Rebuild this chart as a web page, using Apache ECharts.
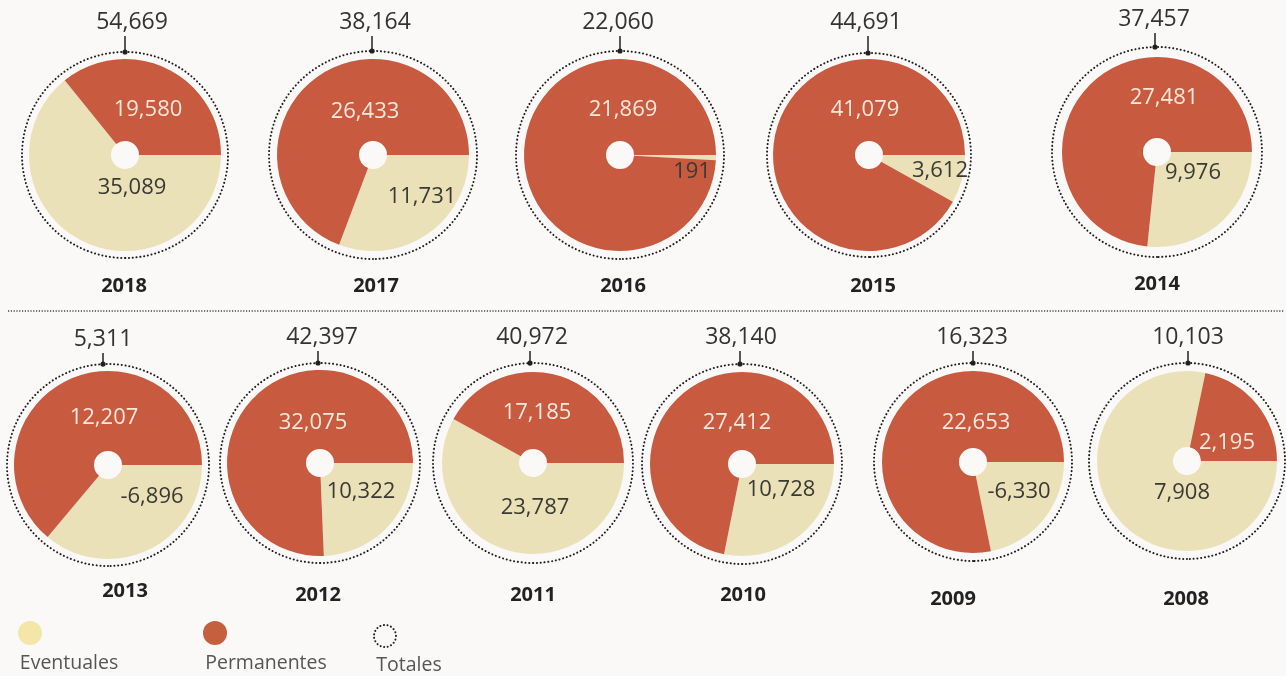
<!DOCTYPE html>
<html>
<head>
<meta charset="utf-8">
<script src="https://cdn.jsdelivr.net/npm/echarts@6/dist/echarts.min.js"></script>
<style>
html,body{margin:0;padding:0;background:#fbf8f8;}
#chart{width:1286px;height:676px;}
</style>
</head>
<body>
<div id="chart"></div>
<script>
// ---- data ----
const years       = ['2018','2017','2016','2015','2014','2013','2012','2011','2010','2009','2008'];
const totales     = [54669, 38164, 22060, 44691, 37457, 5311, 42397, 40972, 38140, 16323, 10103];
const eventuales  = [35089, 11731, 191, 3612, 9976, -6896, 10322, 23787, 10728, -6330, 7908];
const permanentes = [19580, 26433, 21869, 41079, 27481, 12207, 32075, 17185, 27412, 22653, 2195];
const legendNames = ['Eventuales', 'Permanentes', 'Totales'];

// ---- layout (positions / sizes only) ----
// c: center, r: pie radius, rd: dotted radius, t: total label, tx: tick x, yl: year label, ev/pe: slice label positions
const layout = [
  {c:[125,155], r:96, rd:103, t:[132,22], tx:125, yl:[124,286], ev:[132,188], pe:[148,110]},
  {c:[373,155], r:96, rd:104, t:[375,22], tx:372, yl:[376,286], ev:[422,197], pe:[365,112]},
  {c:[620,155], r:96, rd:104, t:[618,22], tx:620, yl:[623,286], ev:[692,172], pe:[623,110]},
  {c:[869,155], r:96, rd:102, t:[866,22], tx:868, yl:[873,286], ev:[940,171], pe:[865,110]},
  {c:[1157,152], r:95, rd:105, t:[1154,19], tx:1155, yl:[1157,284], ev:[1193,173], pe:[1164,98]},
  {c:[108,465], r:94, rd:101, t:[103,339], tx:103, yl:[125,591], ev:[152,497], pe:[104,418]},
  {c:[320,463], r:93, rd:100, t:[322,337], tx:318, yl:[318,595], ev:[361,492], pe:[313,423]},
  {c:[533,463], r:91, rd:100, t:[532,337], tx:530, yl:[533,595], ev:[535,508], pe:[537,413]},
  {c:[742,464], r:92, rd:100, t:[741,337], tx:740, yl:[743,595], ev:[781,490], pe:[737,423]},
  {c:[973,462], r:91, rd:99,  t:[972,337], tx:973, yl:[953,599], ev:[1019,492], pe:[976,423]},
  {c:[1187,461], r:90, rd:98, t:[1188,337], tx:1188, yl:[1186,599], ev:[1182,493], pe:[1227,443]}
];

const RED = '#c85a40', BEIGE = '#ebe1b8';
const FONT = "'Open Sans', 'Noto Sans', sans-serif";
const fmt = v => v.toLocaleString('en-US');

const series = [];
const graphic = [];

years.forEach((yr, i) => {
  const L = layout[i];
  // slices
  series.push({
    type: 'pie',
    name: yr,
    center: L.c,
    radius: [14, L.r],
    startAngle: 0,
    clockwise: true,
    silent: true,
    avoidLabelOverlap: false,
    emphasis: {disabled: true},
    itemStyle: {borderWidth: 0},
    label: {
      show: true,
      position: 'inside',
      fontFamily: FONT,
      fontSize: 22,
      formatter: p => fmt(p.data.signed)
    },
    labelLine: {show: false},
    labelLayout: p => {
      const pos = p.dataIndex === 0 ? L.ev : L.pe;
      return {x: pos[0], y: pos[1], align: 'center', verticalAlign: 'middle'};
    },
    data: [
      {name: legendNames[0], value: Math.abs(eventuales[i]), signed: eventuales[i],
       itemStyle: {color: BEIGE}, label: {color: '#3a3932'}},
      {name: legendNames[1], value: Math.abs(permanentes[i]), signed: permanentes[i],
       itemStyle: {color: RED}, label: {color: '#fbe8dc'}}
    ],
    z: 2
  });
  // dotted total circle
  series.push({
    type: 'pie',
    name: yr + ' total',
    center: L.c,
    radius: [0, L.rd],
    startAngle: 270,
    silent: true,
    avoidLabelOverlap: false,
    emphasis: {disabled: true},
    itemStyle: {color: 'rgba(0,0,0,0)', borderColor: '#1e1e1e', borderWidth: 2,
                borderType: [0.1, 3.7], borderCap: 'round'},
    label: {
      show: true,
      position: 'center',
      fontFamily: FONT,
      fontSize: 23,
      color: '#333',
      formatter: p => fmt(p.value)
    },
    labelLine: {show: false},
    labelLayout: () => ({x: L.t[0], y: L.t[1], align: 'center', verticalAlign: 'middle'}),
    data: [{name: legendNames[2], value: totales[i]}],
    z: 1
  });
  // tick from total label to circle
  const top = L.c[1] - Math.sqrt(L.rd * L.rd - (L.tx - L.c[0]) * (L.tx - L.c[0]));
  graphic.push({type: 'line', silent: true,
    shape: {x1: L.tx, y1: L.t[1] + 14, x2: L.tx, y2: top},
    style: {stroke: '#222', lineWidth: 1.5}});
  graphic.push({type: 'circle', silent: true,
    shape: {cx: L.tx, cy: top, r: 2.6}, style: {fill: '#222'}});
  // year label
  graphic.push({type: 'text', silent: true, x: L.yl[0], y: L.yl[1],
    style: {text: yr, fontFamily: FONT, fontWeight: 'bold', fontSize: 20, fill: '#222',
            align: 'center', verticalAlign: 'middle'}});
});

// separator
graphic.push({type: 'line', silent: true, shape: {x1: 8, y1: 311, x2: 1284, y2: 311},
  style: {stroke: '#444', lineWidth: 1.5, lineDash: [1.2, 1.6]}});

// legend
graphic.push({type: 'circle', silent: true, shape: {cx: 30, cy: 633, r: 12}, style: {fill: '#f3e6a8'}});
graphic.push({type: 'circle', silent: true, shape: {cx: 215, cy: 633, r: 12}, style: {fill: '#c65f3e'}});
graphic.push({type: 'circle', silent: true, shape: {cx: 385, cy: 636, r: 11},
  style: {fill: 'none', stroke: '#222', lineWidth: 2, lineDash: [0.1, 3.5], lineCap: 'round'}});
[[69, 663, legendNames[0]], [266, 663, legendNames[1]], [409, 665, legendNames[2]]].forEach(t => {
  graphic.push({type: 'text', silent: true, x: t[0], y: t[1],
    style: {text: t[2], fontFamily: FONT, fontSize: 19.5, fill: '#555',
            align: 'center', verticalAlign: 'middle'}});
});

const chart = echarts.init(document.getElementById('chart'), null, {renderer: 'canvas'});
chart.setOption({
  backgroundColor: '#fbf8f8',
  animation: false,
  series: series,
  graphic: graphic
});
</script>
</body>
</html>
